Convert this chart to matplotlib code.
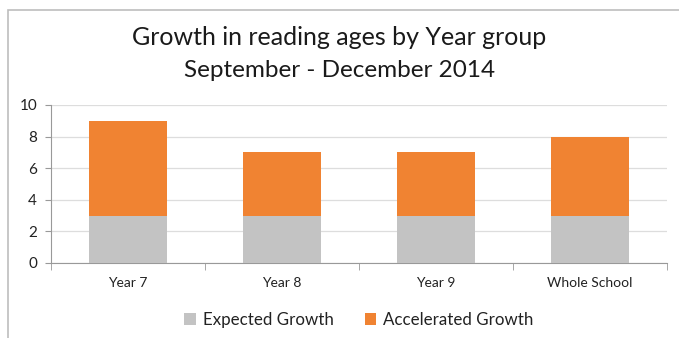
import numpy as np
import matplotlib.pyplot as plt
from matplotlib.patches import Rectangle

plt.rcParams['font.family'] = ['Lato', 'DejaVu Sans']

groups = ["Year 7", "Year 8", "Year 9", "Whole School"]
expected = [3, 3, 3, 3]
accelerated = [6, 4, 4, 5]
yticks = [0, 2, 4, 6, 8, 10]

grey = "#c3c3c3"
orange = "#f08332"

fig = plt.figure(figsize=(6.79, 3.38), dpi=100)
# chart frame
fig.patches.append(Rectangle((8 / 679, -0.01), 1.0, 1 - 10 / 338 + 0.01,
                             transform=fig.transFigure, fill=False,
                             edgecolor="#bdbdbd", linewidth=1.2))

ax = fig.add_axes([51 / 679, 75 / 338, 616 / 679, 158 / 338])
x = np.arange(len(groups))
ax.bar(x, expected, width=0.51, color=grey, label="Expected Growth", zorder=3)
ax.bar(x, accelerated, width=0.51, bottom=expected, color=orange,
       label="Accelerated Growth", zorder=3)

ax.set_xlim(-0.5, len(groups) - 0.5)
ax.set_ylim(0, 10)
ax.set_yticks(yticks)
ax.set_yticklabels([str(v) for v in yticks], fontsize=11, color="#222222")
ax.set_xticks(x)
ax.set_xticklabels(groups, fontsize=10, color="#222222")
ax.tick_params(axis='x', length=0, pad=10)
ax.tick_params(axis='y', length=4, color="#999999", pad=6, direction='out')
ax.set_xticks(np.arange(len(groups) + 1) - 0.5, minor=True)
ax.tick_params(axis='x', which='minor', length=5, color="#999999")
ax.grid(axis='y', color="#dddddd", linewidth=0.9, zorder=0)

for s in ['top', 'right']:
    ax.spines[s].set_visible(False)
for s in ['left', 'bottom']:
    ax.spines[s].set_color("#999999")

fig.text(0.5, 0.888, "Growth in reading ages by Year group", ha='center',
         va='center', fontsize=18, color="#1a1a1a")
fig.text(0.5, 0.79, "September - December 2014", ha='center',
         va='center', fontsize=17.5, color="#1a1a1a")

ax.legend(loc='center', bbox_to_anchor=(0.5, -0.36), ncol=2, frameon=False,
          fontsize=12.2, handlelength=0.7, handleheight=0.7, handletextpad=0.4,
          columnspacing=1.8, labelcolor="#222222")

fig.savefig("out.png", dpi=100)
